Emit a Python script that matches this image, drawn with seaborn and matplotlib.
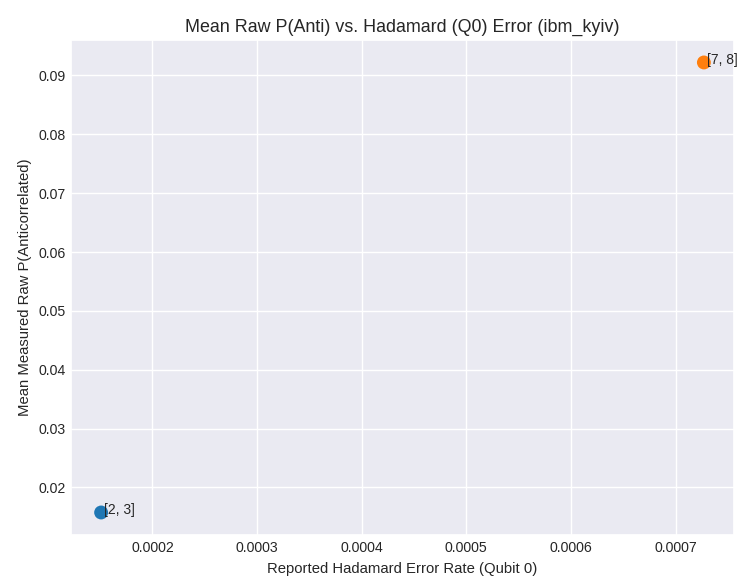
import matplotlib
matplotlib.use("Agg")
import matplotlib.pyplot as plt
import seaborn as sns
import pandas as pd

pairs = ["[2, 3]", "[7, 8]"]
hadamard_error = [0.000151, 0.000727]
mean_p_anti = [0.01575, 0.0922]
colors = ["#1f77b4", "#ff7f0e"]

sns.set_theme(style="darkgrid")
plt.rcParams["font.family"] = ["Liberation Sans", "DejaVu Sans"]
plt.rcParams.update({
    "xtick.major.size": 0, "ytick.major.size": 0,
    "xtick.major.pad": 4.2, "ytick.major.pad": 3.8,
})

df = pd.DataFrame({"pair": pairs, "x": hadamard_error, "y": mean_p_anti})

fig, ax = plt.subplots(figsize=(7.41, 5.76), dpi=100)
sns.scatterplot(data=df, x="x", y="y", hue="pair", palette=colors, s=100,
                edgecolor="none", legend=False, ax=ax)
for p, xv, yv in zip(pairs, hadamard_error, mean_p_anti):
    ax.annotate(p, (xv, yv), xytext=(2.2, -1), textcoords="offset points", fontsize=10)

ax.set_title("Mean Raw P(Anti) vs. Hadamard (Q0) Error (ibm_kyiv)", fontsize=12.85)
ax.set_xlabel("Reported Hadamard Error Rate (Qubit 0)", fontsize=10.7, labelpad=5)
ax.set_ylabel("Mean Measured Raw P(Anticorrelated)", fontsize=10.7, labelpad=5)
ax.tick_params(labelsize=10.2)
fig.subplots_adjust(left=0.0958, right=0.9906, top=0.9306, bottom=0.0712)
fig.savefig("out.png", dpi=100)
